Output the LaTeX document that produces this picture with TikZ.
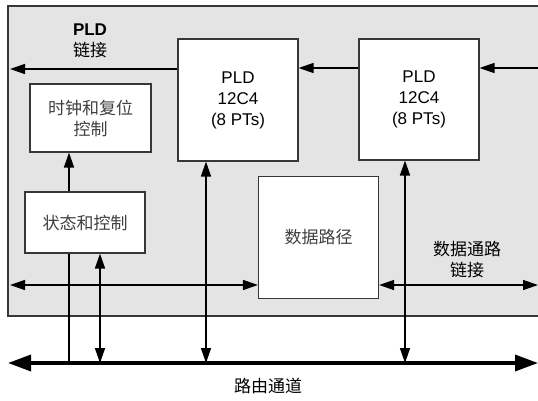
\documentclass[tikz,border=0pt]{standalone}
\usepackage{fontspec}
\setmainfont{Liberation Sans}
\newfontfamily\cjk{Noto Sans CJK SC}
\usetikzlibrary{arrows.meta}
\definecolor{panel}{RGB}{228,228,228}
\definecolor{edge}{RGB}{55,55,55}
\tikzset{
  block/.style={draw=edge,line width=1.1pt,fill=white,align=center,inner sep=0pt},
  arr/.style={line width=1.4pt,-{Triangle[length=15pt,width=10pt]}},
  arrs/.style={line width=1.6pt,{Triangle[length=15pt,width=10pt]}-{Triangle[length=15pt,width=10pt]}},
  bus/.style={line width=3.5pt,{Triangle[length=23pt,width=16pt]}-{Triangle[length=23pt,width=16pt]}},
  lbl/.style={align=center,inner sep=0pt}
}
\begin{document}
\begin{tikzpicture}[x=1pt,y=-1pt,font=\fontsize{17}{21}\selectfont]
  \useasboundingbox (0,0) rectangle (538,400);
  % the device
  \fill[panel] (8,6) rectangle (538,316);
  \draw[edge,line width=1.2pt] (538,6) -- (8,6) -- (8,316) -- (538,316);
  \node[block,minimum width=121pt,minimum height=68pt] (clk) at (90.5,118) {{\cjk\color{black!75} 时钟和复位}\\{\cjk\color{black!75} 控制}};
  \node[block,minimum width=120pt,minimum height=61pt] (state) at (85,222.5) {\cjk\color{black!75} 状态和控制};
  \node[block,minimum width=120pt,minimum height=122pt] (pldA) at (238,100) {PLD\\12C4\\(8 PTs)};
  \node[block,minimum width=120pt,minimum height=121pt] (pldB) at (419,99.5) {PLD\\12C4\\(8 PTs)};
  \node[block,minimum width=120pt,minimum height=122pt] (data) at (318.5,237.5) {\cjk\color{black!75} 数据路径};
  \node[lbl] (pldlnk) at (90,41) {{\bfseries PLD}\\{\cjk 链接}};
  \node[lbl] (datalnk) at (467,260) {{\cjk 数据通路}\\{\cjk 链接}};
  \node[lbl] (route) at (268,386) {\cjk 路由通道};
  % ends of connectors
  \coordinate (lnkL) at (10,69);
  \coordinate (lnkR) at (538,68);
  \coordinate (dpL) at (10,285);
  \coordinate (dpR) at (538,285);
  \coordinate (busL) at (8,363);
  \coordinate (busR) at (538,363);
  \coordinate (s1) at (69,363);
  \coordinate (s2) at (100,363);
  \coordinate (s3) at (206,363);
  \coordinate (s4) at (405,363);
  % links
  \draw[arr] (pldA.west |- lnkL) -- (lnkL);
  \draw[arr] (pldB.west |- lnkR) -- (pldA.east |- lnkR);
  \draw[arr] (lnkR) -- (pldB.east |- lnkR);
  \draw[arr,line width=1.6pt] (s1 |- state.north) -- (s1 |- clk.south);
  \draw[line width=1.6pt] (s1 |- state.south) -- (s1);
  \draw[arrs] (s2 |- state.south) -- (s2);
  \draw[arrs] (s3 |- pldA.south) -- (s3);
  \draw[arrs] (s4 |- pldB.south) -- (s4);
  \draw[arrs,line width=1.4pt] (dpL) -- (data.west |- dpL);
  \draw[arrs,line width=1.4pt] (data.east |- dpR) -- (dpR);
  \draw[bus] (busL) -- (busR);
\end{tikzpicture}
\end{document}
